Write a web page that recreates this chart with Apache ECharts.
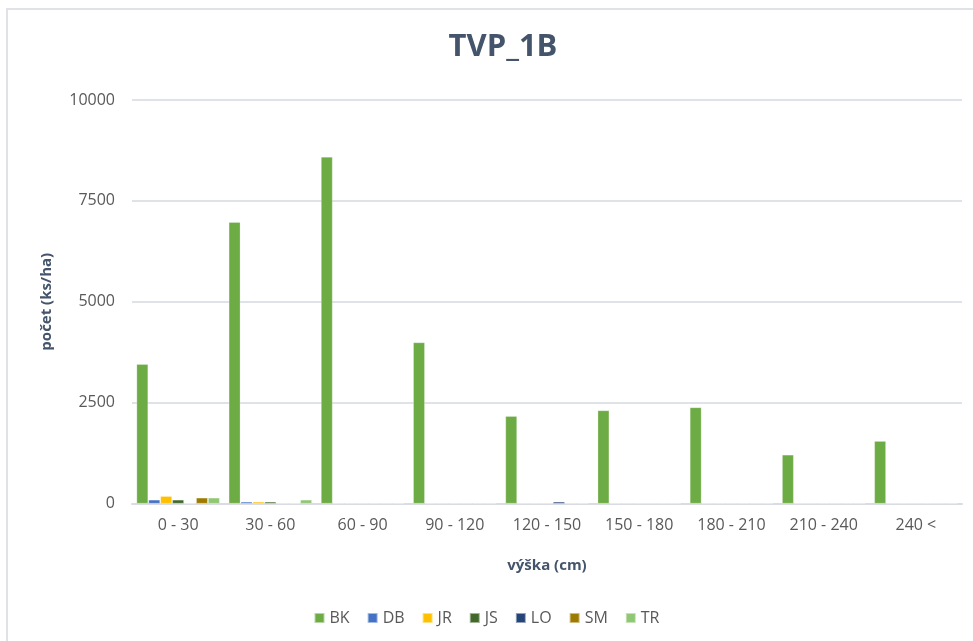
<!DOCTYPE html>
<html>
<head>
<meta charset="utf-8">
<script src="https://cdn.jsdelivr.net/npm/echarts@6/dist/echarts.min.js"></script>
<style>
html,body{margin:0;padding:0;background:#fff;}
#chart{width:973px;height:641px;}
</style>
</head>
<body>
<div id="chart"></div>
<script>
const categories = ['0 - 30','30 - 60','60 - 90','90 - 120','120 - 150','150 - 180','180 - 210','210 - 240','240 <'];
const seriesNames = ['BK','DB','JR','JS','LO','SM','TR'];
const BK = [3450, 6970, 8590, 3990, 2165, 2305, 2380, 1205, 1545];
const DB = [90, 40, 0, 0, 0, 0, 0, 0, 0];
const JR = [180, 40, 0, 0, 0, 0, 0, 0, 0];
const JS = [90, 40, 0, 0, 0, 0, 0, 0, 0];
const LO = [0, 0, 0, 0, 40, 0, 0, 0, 0];
const SM = [140, 0, 0, 0, 0, 0, 0, 0, 0];
const TR = [140, 90, 0, 0, 0, 0, 0, 0, 0];
const yTicks = [0, 2500, 5000, 7500, 10000];
const titleText = 'TVP_1B';
const yName = 'počet (ks/ha)';
const xName = 'výška (cm)';

const values = [BK, DB, JR, JS, LO, SM, TR];
const colors = ['#6dab44', '#4472C4', '#FFC000', '#43682B', '#264478', '#9E7A00', '#8fc772'];

const chart = echarts.init(document.getElementById('chart'));
const font = '"Open Sans", "Noto Sans", sans-serif';
chart.setOption({
  animation: false,
  textStyle: { fontFamily: font },
  graphic: [{
    type: 'polyline',
    shape: { points: [[7, 660], [7, 9], [990, 9]] },
    style: { stroke: '#dfe3e8', lineWidth: 2, fill: null },
    silent: true
  }],
  title: {
    text: titleText,
    left: 498, top: 27, textAlign: 'center',
    textStyle: { fontSize: 31, fontWeight: 'bold', color: '#44546A', fontFamily: font }
  },
  legend: {
    data: seriesNames,
    left: 'center', top: 605,
    itemWidth: 10, itemHeight: 10, itemGap: 17,
    icon: 'rect',
    textStyle: { fontSize: 16, color: '#595959', fontFamily: font }
  },
  grid: { left: 132, right: 11, top: 100, bottom: 137.5, containLabel: false },
  xAxis: {
    type: 'category',
    data: categories,
    name: xName,
    nameLocation: 'middle',
    nameGap: 55,
    nameTextStyle: { fontSize: 15, fontWeight: 'bold', color: '#44546A', fontFamily: font },
    axisLine: { lineStyle: { color: '#d9dde3', width: 2 } },
    axisTick: { show: false },
    axisLabel: { fontSize: 16, color: '#595959', margin: 14, fontFamily: font }
  },
  yAxis: {
    type: 'value',
    min: yTicks[0], max: yTicks[yTicks.length - 1], interval: 2500,
    name: yName,
    nameLocation: 'middle',
    nameGap: 78,
    nameTextStyle: { fontSize: 15, fontWeight: 'bold', color: '#44546A', fontFamily: font },
    axisLine: { show: false },
    axisTick: { show: false },
    splitLine: { lineStyle: { color: '#dfe3e8', width: 2 } },
    axisLabel: { fontSize: 16, color: '#595959', margin: 17, fontFamily: font, formatter: v => String(v) }
  },
  series: seriesNames.map((n, i) => ({
    name: n,
    type: 'bar',
    data: values[i],
    barGap: '4%',
    barCategoryGap: '10%',
    itemStyle: { color: colors[i], borderColor: 'rgba(255,255,255,0.5)', borderWidth: 0.5 }
  }))
});
</script>
</body>
</html>
